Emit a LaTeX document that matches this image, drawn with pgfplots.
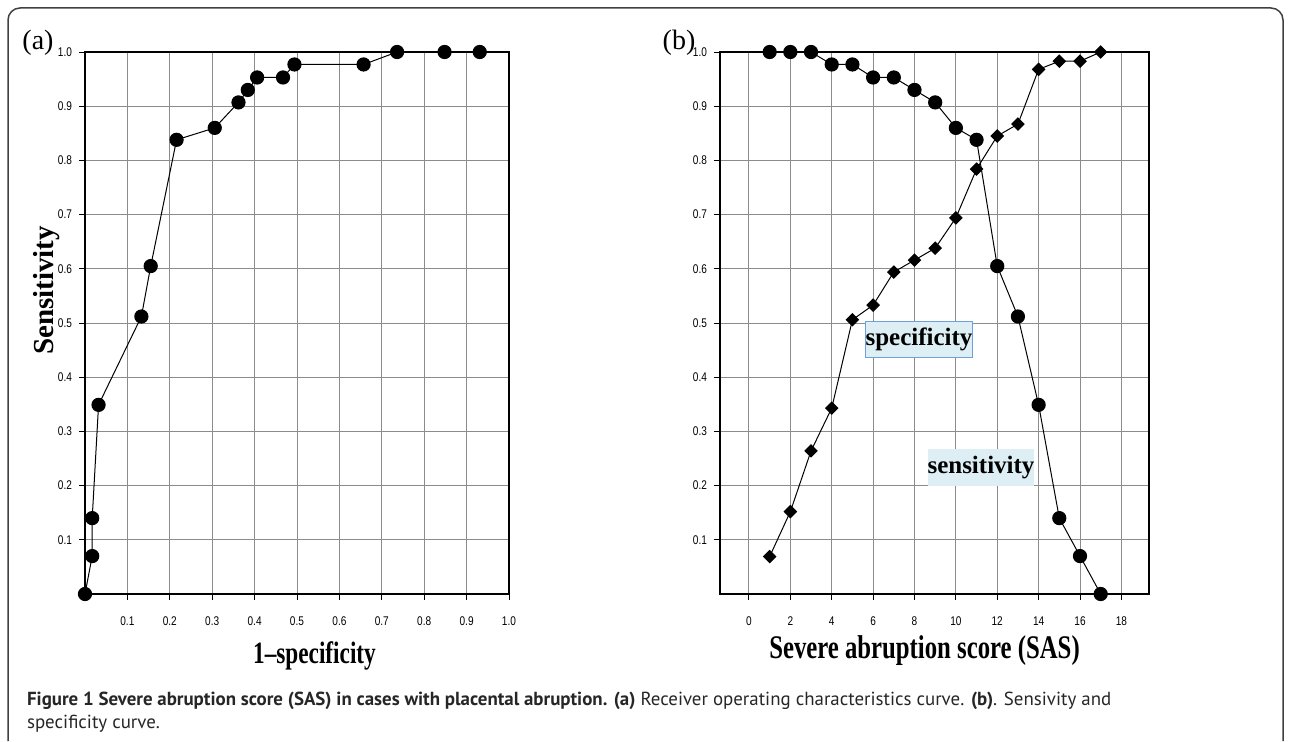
\documentclass[border=0pt]{standalone}
\usepackage{fontspec}
\setmainfont{Liberation Serif}
\newfontfamily\ticksf{Liberation Sans}[FakeStretch=0.8]
\newfontfamily\condserif{Liberation Serif}[FakeStretch=0.75, Ligatures=TeX]
\newfontfamily\capsf{PT Sans}
\usepackage{pgfplots}
\pgfplotsset{compat=1.18}

\definecolor{boxfill}{HTML}{DDEFF5}
\definecolor{boxline}{HTML}{6FA0D8}
\definecolor{gridgray}{HTML}{8C8C8C}

\pgfplotsset{
  panel/.style={
    scale only axis,
    height=271pt,
    anchor=south west,
    ymin=0, ymax=1,
    ytick={0.1,0.2,0.3,0.4,0.5,0.6,0.7,0.8,0.9,1.0},
    grid=major,
    grid style={gridgray, line width=0.5pt},
    axis line style={line width=0.9pt},
    tick align=outside,
    tick pos=left,
    major tick length=3pt,
    tick style={black, line width=0.5pt},
    ticklabel style={font=\ticksf\fontsize{6.3}{7}\selectfont},
    /pgf/number format/assume math mode=true,
    yticklabel style={/pgf/number format/fixed,
      /pgf/number format/fixed zerofill, /pgf/number format/precision=1},
    xticklabel style={yshift=-5pt},
    clip=false,
  },
  curve/.style={black, line width=0.5pt, mark options={fill=black, solid}},
}

\begin{document}
\begin{tikzpicture}[x=0.5pt, y=0.5pt]
\useasboundingbox (0,0) rectangle (1290,741);

% outer frame, open at the bottom
\draw[black!75, line width=0.75pt, rounded corners=6pt]
  (8,0) -- (8,733) -- (1283,733) -- (1283,0);

% (a) ROC curve
\begin{axis}[panel, at={(42.5pt,73.5pt)}, width=212pt,
    xmin=0, xmax=1,
    xtick={0.1,0.2,0.3,0.4,0.5,0.6,0.7,0.8,0.9,1.0},
    xticklabel style={/pgf/number format/fixed,
      /pgf/number format/fixed zerofill, /pgf/number format/precision=1}]
\addplot[curve, mark=*, mark size=3.3pt] coordinates {
  (0.000,0.000) (0.017,0.070) (0.017,0.140) (0.032,0.349)
  (0.133,0.512) (0.155,0.605) (0.216,0.838) (0.306,0.860)
  (0.362,0.907) (0.384,0.930) (0.406,0.953) (0.467,0.953)
  (0.494,0.977) (0.657,0.977) (0.736,1.000) (0.848,1.000)
  (0.931,1.000)
};
\end{axis}

% (b) sensitivity and specificity vs SAS
\begin{axis}[panel, at={(360pt,73.5pt)}, width=214.65pt,
    xmin=-1.4, xmax=19.35,
    xtick={0,2,4,6,8,10,12,14,16,18}]
\addplot[curve, mark=*, mark size=3.3pt] coordinates {
  (1,1.000) (2,1.000) (3,1.000) (4,0.977) (5,0.977) (6,0.953)
  (7,0.953) (8,0.930) (9,0.907) (10,0.860) (11,0.838) (12,0.605)
  (13,0.512) (14,0.349) (15,0.140) (16,0.070) (17,0.000)
};
\addplot[curve, mark=square*, mark size=2.15pt,
  mark options={rotate=45}] coordinates {
  (1,0.069) (2,0.152) (3,0.264) (4,0.343) (5,0.506) (6,0.533)
  (7,0.594) (8,0.616) (9,0.638) (10,0.694) (11,0.784) (12,0.845)
  (13,0.867) (14,0.968) (15,0.983) (16,0.983) (17,1.000)
};
\end{axis}

% panel letters and axis titles
\node[font=\fontsize{14}{16}\selectfont] at (38,698) {(a)};
\node[font=\fontsize{14}{16}\selectfont] at (679,698) {(b)};
\node[rotate=90, anchor=base, font=\bfseries\fontsize{14.5}{16}\selectfont] at (53,450.5) {Sensitivity};
\node[anchor=base, font=\condserif\bfseries\fontsize{15.5}{18}\selectfont] at (314.5,78) {1\textendash specificity};
\node[anchor=base, font=\condserif\bfseries\fontsize{16.5}{19}\selectfont] at (924.5,83) {Severe abruption score (SAS)};

% curve labels
\node[fill=boxfill, draw=boxline, line width=0.4pt, inner sep=0pt,
  minimum width=52pt, minimum height=18pt,
  font=\bfseries\fontsize{12.5}{14}\selectfont] at (919,402) {specificity};
\node[fill=boxfill, inner sep=0pt,
  minimum width=52pt, minimum height=18.5pt,
  font=\bfseries\fontsize{12.5}{14}\selectfont] at (981,273.5) {sensitivity};

% caption
\node[anchor=base west, text=black!85, font=\capsf\fontsize{9.45}{11}\selectfont] at (20,36)
  {\textbf{Figure 1 Severe abruption score (SAS) in cases with placental abruption. (a)} Receiver operating characteristics curve. \textbf{(b)}. Sensivity and};
\node[anchor=base west, text=black!85, font=\capsf\fontsize{9.45}{11}\selectfont] at (20,13)
  {specificity curve.};
\end{tikzpicture}
\end{document}
